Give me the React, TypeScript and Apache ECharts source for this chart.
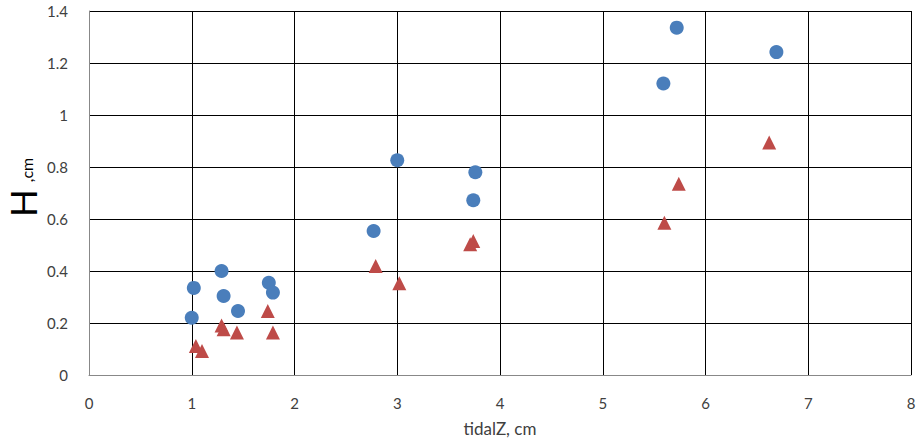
import React, { useEffect, useRef } from "react";
import * as echarts from "echarts";

const blueX = [1.0, 1.02, 1.29, 1.31, 1.45, 1.75, 1.79, 2.77, 3.0, 3.74, 3.76, 5.59, 5.72, 6.69];
const blueY = [0.22, 0.335, 0.4, 0.304, 0.246, 0.355, 0.317, 0.554, 0.826, 0.672, 0.78, 1.121, 1.336, 1.242];
const redX = [1.04, 1.1, 1.29, 1.31, 1.44, 1.74, 1.79, 2.79, 3.02, 3.71, 3.74, 5.6, 5.74, 6.62];
const redY = [0.112, 0.092, 0.19, 0.176, 0.163, 0.246, 0.163, 0.419, 0.353, 0.503, 0.515, 0.586, 0.736, 0.894];

const xTitle = "tidalZ, cm";
const yTitleMain = "H";
const yTitleSub = ",cm";

export default function App() {
  const ref = useRef<HTMLDivElement>(null);
  useEffect(() => {
    if (!ref.current) return;
    const chart = echarts.init(ref.current, null, { renderer: "svg" });
    const font = "Lato, 'Open Sans', sans-serif";
    chart.setOption({
      animation: false,
      backgroundColor: "#ffffff",
      grid: { left: 89, right: 11, top: 11, bottom: 67, containLabel: false },
      xAxis: {
        type: "value",
        min: 0,
        max: 8,
        interval: 1,
        name: xTitle,
        nameLocation: "middle",
        nameGap: 45,
        nameTextStyle: { color: "#404040", fontSize: 17, fontFamily: font },
        axisLine: { show: true, lineStyle: { color: "#888888", width: 1 } },
        axisTick: { show: false },
        axisLabel: { color: "#404040", fontSize: 15, fontFamily: font, margin: 20 },
        splitLine: { show: true, lineStyle: { color: "#000000", width: 1 } },
      },
      yAxis: {
        type: "value",
        min: 0,
        max: 1.4,
        interval: 0.2,
        axisLine: { show: true, lineStyle: { color: "#888888", width: 1 } },
        axisTick: { show: false },
        axisLabel: { color: "#404040", fontSize: 15, fontFamily: font, margin: 21 },
        splitLine: { show: true, lineStyle: { color: "#000000", width: 1 } },
      },
      graphic: [
        {
          type: "text",
          x: 22,
          y: 203,
          rotation: Math.PI / 2,
          style: {
            text: yTitleMain,
            fill: "#000000",
            fontSize: 37,
            lineHeight: 34,
            fontFamily: font,
            align: "center",
            verticalAlign: "middle",
          },
        },
        {
          type: "text",
          x: 34,
          y: 170,
          rotation: Math.PI / 2,
          style: {
            text: yTitleSub,
            fill: "#000000",
            fontSize: 16,
            fontFamily: font,
            align: "center",
            verticalAlign: "bottom",
          },
        },
      ],
      series: [
        {
          type: "scatter",
          symbol: "circle",
          symbolSize: 14,
          itemStyle: { color: "#4A7EBB", opacity: 1 },
          data: blueX.map((x, i) => [x, blueY[i]]),
        },
        {
          type: "scatter",
          symbol: "triangle",
          symbolSize: 14,
          itemStyle: { color: "#BE4B48", opacity: 1 },
          data: redX.map((x, i) => [x, redY[i]]),
        },
      ],
    });
    return () => chart.dispose();
  }, []);
  return (
    <div
      ref={ref}
      style={{ position: "fixed", left: 0, top: 0, width: 922, height: 442 }}
    />
  );
}
